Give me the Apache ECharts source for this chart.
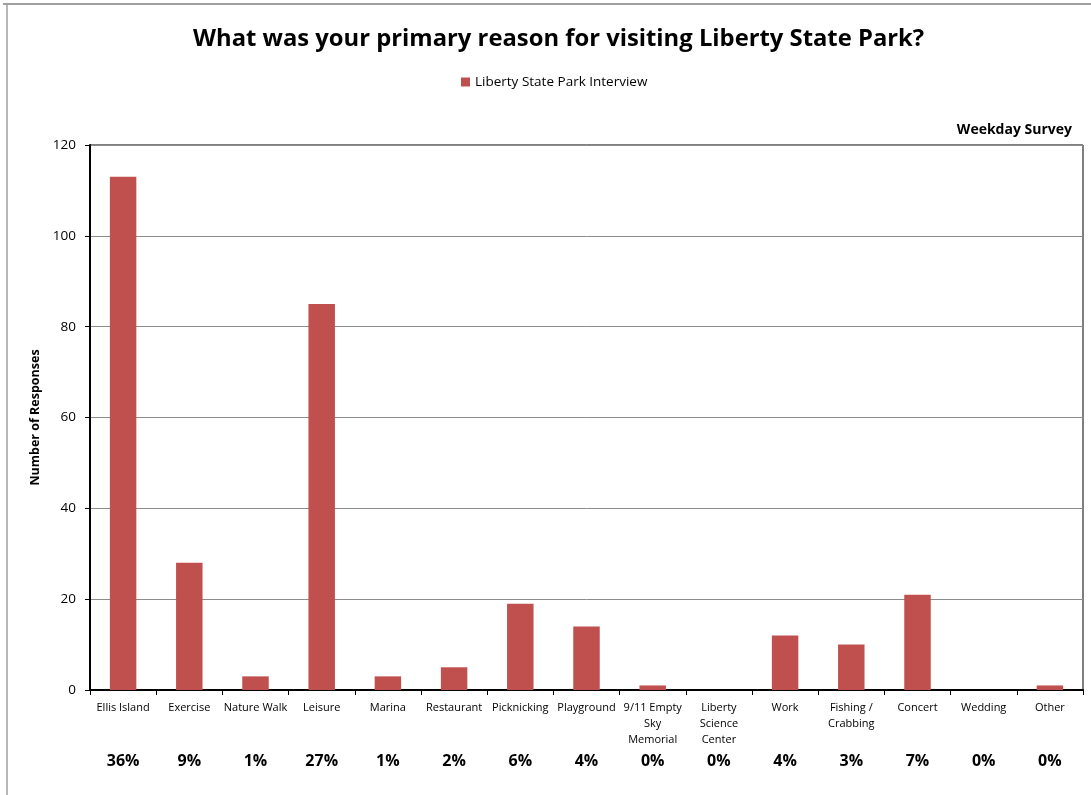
<!DOCTYPE html>
<html><head><meta charset="utf-8">
<script src="https://cdn.jsdelivr.net/npm/echarts@6/dist/echarts.min.js"></script>
<style>html,body{margin:0;padding:0;background:#fff}#c{width:1091px;height:795px}</style>
</head><body><div id="c"></div>
<script>
const categories = ['Ellis Island','Exercise','Nature Walk','Leisure','Marina','Restaurant','Picknicking','Playground','9/11 Empty\nSky\nMemorial','Liberty\nScience\nCenter','Work','Fishing /\nCrabbing','Concert','Wedding','Other'];
const responses = [113,28,3,85,3,5,19,14,1,0,12,10,21,0,1];
const percentLabels = ['36%','9%','1%','27%','1%','2%','6%','4%','0%','0%','4%','3%','7%','0%','0%'];
const seriesName = 'Liberty State Park Interview';
const yTicks = {min:0,max:120,interval:20};

const FONT = "'Open Sans', sans-serif";
const chart = echarts.init(document.getElementById('c'));
chart.setOption({
  animation:false,
  textStyle:{fontFamily:FONT},
  title:[{text:'What was your primary reason for visiting Liberty State Park?',left:188,top:22,
    textStyle:{fontFamily:FONT,fontSize:23.8,fontWeight:'bold',color:'#000'}},
    {text:'Weekday Survey',right:14,top:118,textStyle:{fontFamily:FONT,fontSize:14,fontWeight:'bold',color:'#000'}}],
  legend:{top:70,left:456,itemWidth:9,itemHeight:9,itemGap:4,icon:'rect',
    itemStyle:{borderWidth:0},
    textStyle:{fontFamily:FONT,fontSize:13.5,color:'#000'},data:[seriesName]},
  grid:{left:90,right:8,top:145,bottom:105,show:true,borderColor:'#000',borderWidth:1},
  xAxis:[{type:'category',data:categories,position:'bottom',
    axisLine:{lineStyle:{color:'#000',width:2}},
    axisTick:{show:true,length:5,lineStyle:{color:'#000'}},
    axisLabel:{fontFamily:FONT,fontSize:11,color:'#000',margin:10,lineHeight:16,interval:0},
    splitLine:{show:false}},
   {type:'category',data:percentLabels,position:'bottom',offset:55,
    axisLine:{show:false},axisTick:{show:false},
    axisLabel:{fontFamily:FONT,fontSize:16,fontWeight:'bold',color:'#000',interval:0}}],
  yAxis:{type:'value',min:yTicks.min,max:yTicks.max,interval:yTicks.interval,
    name:'Number of Responses',nameLocation:'middle',nameGap:44,
    nameTextStyle:{fontFamily:FONT,fontSize:12.5,fontWeight:'bold',color:'#000'},
    axisLine:{show:true,lineStyle:{color:'#000',width:2}},
    axisTick:{show:true,length:5,lineStyle:{color:'#000'}},
    axisLabel:{fontFamily:FONT,fontSize:13.5,color:'#000',margin:14},
    splitLine:{lineStyle:{color:'#8c8c8c',width:1}}},
  series:[{name:seriesName,type:'bar',data:responses,xAxisIndex:0,barWidth:'40%',
    itemStyle:{color:'#C0504D',borderWidth:0}}],
  graphic:[
    {type:'line',shape:{x1:3,y1:4,x2:1091,y2:4},style:{stroke:'#a0a0a0',lineWidth:2}},
    {type:'line',shape:{x1:7,y1:4,x2:7,y2:795},style:{stroke:'#a0a0a0',lineWidth:1.5}}
  ]
});
</script></body></html>
